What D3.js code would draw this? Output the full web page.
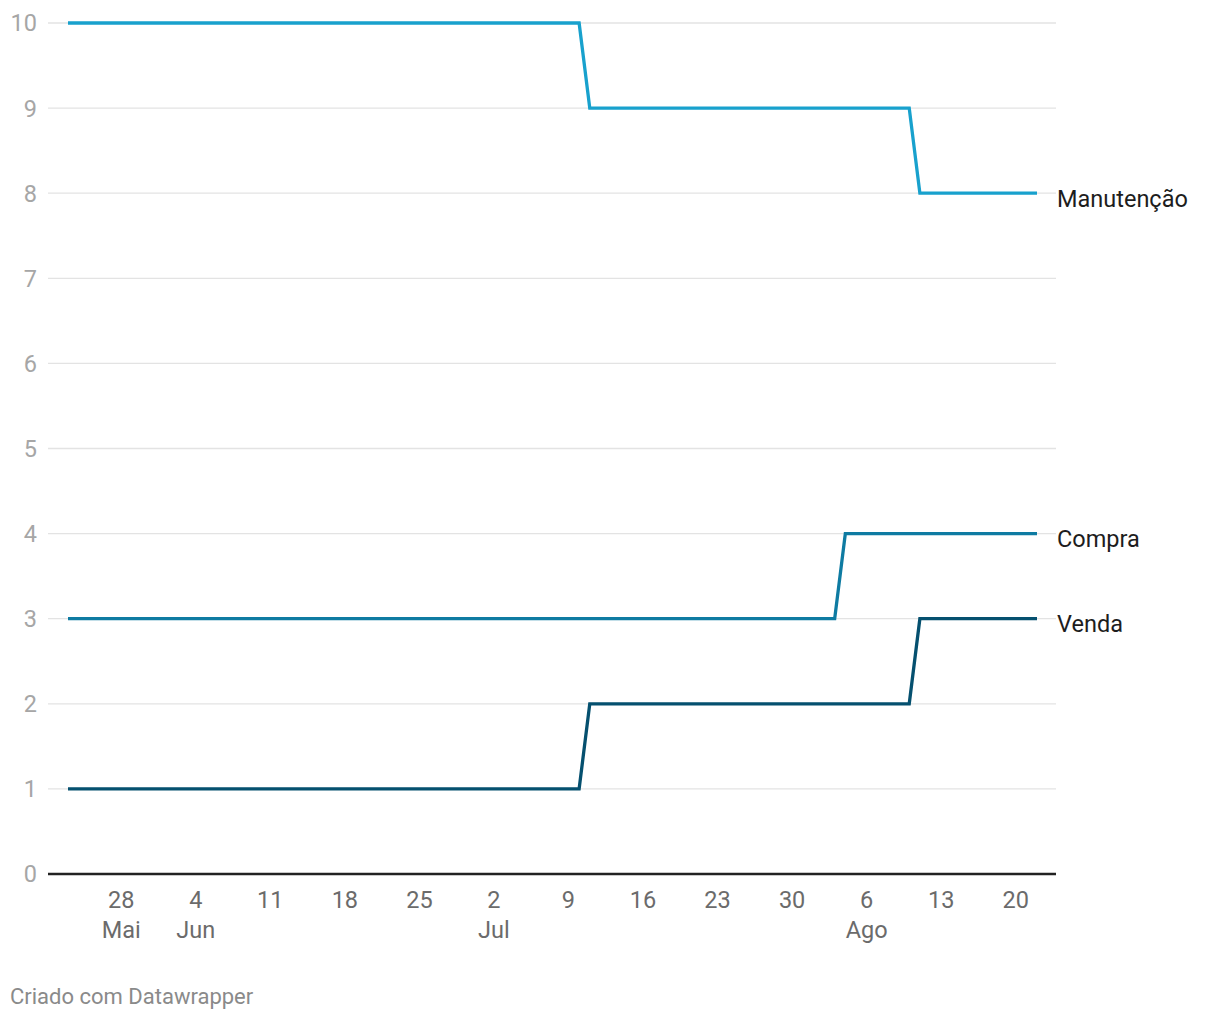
<!DOCTYPE html>
<html><head><meta charset="utf-8">
<script src="https://cdn.jsdelivr.net/npm/d3@7"></script>
<style>body{margin:0;background:#fff;font-family:Roboto,sans-serif;}</style>
</head><body>
<svg id="c" width="1220" height="1020"></svg>
<script>
// Step points (dates where values change), daily data 2018-05-23 .. 2018-08-22
const dates = ["2018-05-23","2018-07-10","2018-07-11","2018-08-03","2018-08-04","2018-08-10","2018-08-11","2018-08-22"];
const manutencao = [10,10,9,9,9,9,8,8];
const compra     = [3,3,3,3,4,4,4,4];
const venda      = [1,1,2,2,2,2,3,3];
const seriesNames = ["Manutenção","Compra","Venda"];
const seriesColors = ["#18a1cd","#0e7ba2","#05506f"];
const yTicks = [0,1,2,3,4,5,6,7,8,9,10];
const xTickDates = ["2018-05-28","2018-06-04","2018-06-11","2018-06-18","2018-06-25","2018-07-02","2018-07-09","2018-07-16","2018-07-23","2018-07-30","2018-08-06","2018-08-13","2018-08-20"];
const monthLabels = {"2018-05-28":"Mai","2018-06-04":"Jun","2018-07-02":"Jul","2018-08-06":"Ago"};

const parse = d3.timeParse("%Y-%m-%d");
const svg = d3.select("#c");
const x = d3.scaleTime().domain([parse("2018-05-23"), parse("2018-08-22")]).range([68,1037]);
const y = d3.scaleLinear().domain([0,10]).range([874,23]);
const gridL = 48, gridR = 1056;

// gridlines
svg.append("g").selectAll("line").data(yTicks.filter(d=>d>0)).join("line")
  .attr("x1",gridL).attr("x2",gridR).attr("y1",d=>y(d)).attr("y2",d=>y(d))
  .attr("stroke","#e3e3e3").attr("stroke-width",1.3);
// y labels
svg.append("g").selectAll("text").data(yTicks).join("text")
  .attr("x",37).attr("y",d=>y(d)).attr("dy","0.36em").attr("text-anchor","end")
  .attr("font-size",23.5).attr("fill","#a6a6a6").text(d=>d);
// baseline
svg.append("line").attr("x1",gridL).attr("x2",gridR).attr("y1",y(0)).attr("y2",y(0))
  .attr("stroke","#222").attr("stroke-width",2.5);

// x labels
const xg = svg.append("g");
xTickDates.forEach(s=>{
  const d = parse(s);
  xg.append("text").attr("x",x(d)).attr("y",908).attr("text-anchor","middle")
    .attr("font-size",23.5).attr("fill","#6b6b6b").text(d.getDate());
  if (monthLabels[s]) xg.append("text").attr("x",x(d)).attr("y",938).attr("text-anchor","middle")
    .attr("font-size",23.5).attr("fill","#6b6b6b").text(monthLabels[s]);
});

// lines
const allVals = [manutencao, compra, venda];
const line = d3.line().x(d=>x(d.date)).y(d=>y(d.v));
allVals.forEach((vals,i)=>{
  const data = dates.map((s,j)=>({date:parse(s), v:vals[j]}));
  svg.append("path").datum(data).attr("d",line).attr("fill","none")
    .attr("stroke",seriesColors[i]).attr("stroke-width",3.3).attr("stroke-linejoin","miter");
  svg.append("text").attr("x",1057).attr("y",y(vals[vals.length-1])).attr("dy","0.58em")
    .attr("font-size",23.5).attr("fill","#1d1d1d").text(seriesNames[i]);
});

svg.append("text").attr("x",10).attr("y",1004).attr("font-size",22).attr("fill","#8a8a8a")
  .text("Criado com Datawrapper");
</script>
</body></html>
